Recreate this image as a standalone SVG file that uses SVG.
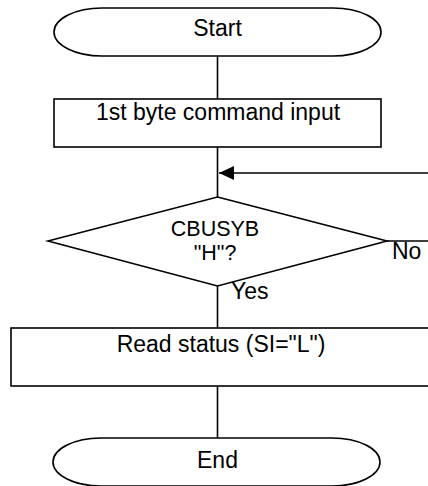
<svg xmlns="http://www.w3.org/2000/svg" width="428" height="486" viewBox="0 0 428 486">
<style>
.s{fill:#fff;stroke:#000;stroke-width:1.6}
.c{fill:none;stroke:#000;stroke-width:1.6}
text{font-family:"Liberation Sans",Arial,sans-serif;font-size:23px;fill:#000}
.m{text-anchor:middle}
.d{font-size:21.5px}
</style>
<defs>
<marker id="ah" markerUnits="userSpaceOnUse" markerWidth="16" markerHeight="14" refX="15" refY="7" orient="auto">
<path d="M0 0 L15 7 L0 14 Z" fill="#000"/>
</marker>
</defs>
<rect width="428" height="486" fill="#fff"/>
<g id="connectors">
<line class="c" x1="217.5" y1="56" x2="217.5" y2="99"/>
<line class="c" x1="217.5" y1="147" x2="217.5" y2="197"/>
<line class="c" x1="217.5" y1="286" x2="217.5" y2="328"/>
<line class="c" x1="217.5" y1="386" x2="217.5" y2="438"/>
<path class="c" d="M387 241 H440 V173 H219" marker-end="url(#ah)"/>
</g>
<g id="start">
<path class="s" d="M102 8 H333 A48 24 0 0 1 333 56 H102 A48 24 0 0 1 102 8 Z"/>
<text class="m" x="217.5" y="36">Start</text>
</g>
<g id="cmd">
<rect class="s" x="54" y="99" width="327" height="48"/>
<text class="m" x="218" y="120">1st byte command input</text>
</g>
<g id="decision">
<polygon class="s" points="217.5,197 387,241 217.5,286 48,241"/>
<text class="m d" x="215" y="236">CBUSYB</text>
<text class="m d" x="215" y="260">"H"?</text>
<text x="392" y="259">No</text>
<text x="231" y="299">Yes</text>
</g>
<g id="read">
<rect class="s" x="11" y="328" width="422" height="58"/>
<text class="m" x="221" y="352">Read status (SI="L")</text>
</g>
<g id="end">
<path class="s" d="M101 438 H332 A48 24 0 0 1 332 486 H101 A48 24 0 0 1 101 438 Z"/>
<text class="m" x="217.5" y="468">End</text>
</g>
</svg>
